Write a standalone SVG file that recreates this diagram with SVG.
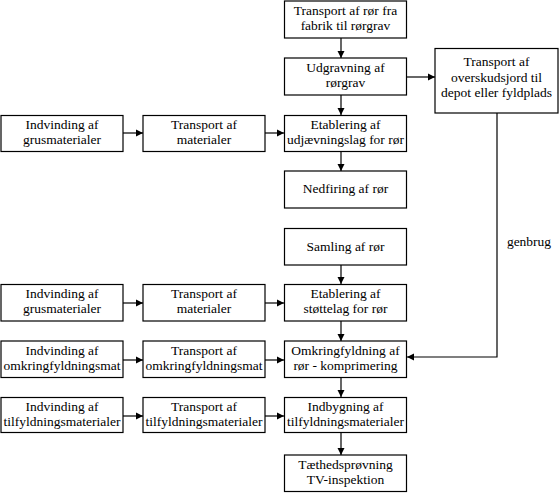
<svg xmlns="http://www.w3.org/2000/svg" width="559" height="493" viewBox="0 0 559 493" font-family="'Liberation Serif', 'Times New Roman', Times, serif">
<style>
.b{fill:#fff;stroke:#000;stroke-width:1.2}
text{font-family:'Liberation Serif','Times New Roman',Times,serif;font-size:13.5px;fill:#000;text-anchor:middle}
.c{fill:none;stroke:#000;stroke-width:1.2}
</style>
<defs>
<marker id="ah" markerUnits="userSpaceOnUse" markerWidth="8" markerHeight="8" refX="7" refY="4" orient="auto">
<path d="M0,0.5 L7,4 L0,7.5 Z" fill="#000"/>
</marker>
</defs>
<rect width="559" height="493" fill="#fff"/>
<g id="connectors">
<line class="c" x1="341" y1="38" x2="341" y2="58" marker-end="url(#ah)"/>
<line class="c" x1="341" y1="95" x2="341" y2="115" marker-end="url(#ah)"/>
<line class="c" x1="341" y1="151" x2="341" y2="171" marker-end="url(#ah)"/>
<line class="c" x1="341" y1="265" x2="341" y2="284" marker-end="url(#ah)"/>
<line class="c" x1="341" y1="321" x2="341" y2="341" marker-end="url(#ah)"/>
<line class="c" x1="341" y1="377" x2="341" y2="397" marker-end="url(#ah)"/>
<line class="c" x1="341" y1="432" x2="341" y2="455" marker-end="url(#ah)"/>
<line class="c" x1="407" y1="77" x2="435" y2="77" marker-end="url(#ah)"/>
<line class="c" x1="123" y1="133" x2="143" y2="133" marker-end="url(#ah)"/>
<line class="c" x1="265" y1="133" x2="284" y2="133" marker-end="url(#ah)"/>
<line class="c" x1="123" y1="303" x2="143" y2="303" marker-end="url(#ah)"/>
<line class="c" x1="265" y1="303" x2="284" y2="303" marker-end="url(#ah)"/>
<line class="c" x1="123" y1="360" x2="143" y2="360" marker-end="url(#ah)"/>
<line class="c" x1="265" y1="360" x2="284" y2="360" marker-end="url(#ah)"/>
<line class="c" x1="123" y1="416" x2="143" y2="416" marker-end="url(#ah)"/>
<line class="c" x1="265" y1="416" x2="284" y2="416" marker-end="url(#ah)"/>
<polyline class="c" points="497,113 497,357 407,357" marker-end="url(#ah)"/>
<text x="529" y="246">genbrug</text>
</g>
<g id="n1"><rect class="b" x="284.5" y="1" width="122" height="37"/><text x="345.5" y="15">Transport af rør fra</text><text x="345.5" y="30">fabrik til rørgrav</text></g>
<g id="n2"><rect class="b" x="284.5" y="58" width="122" height="37"/><text x="345.5" y="72">Udgravning af</text><text x="345.5" y="87">rørgrav</text></g>
<g id="n3"><rect class="b" x="435" y="48.5" width="123" height="64.5"/><text x="496.5" y="66">Transport af</text><text x="496.5" y="82">overskudsjord til</text><text x="496.5" y="97">depot eller fyldplads</text></g>
<g id="n4"><rect class="b" x="1" y="115.5" width="122" height="36"/><text x="62" y="129">Indvinding af</text><text x="62" y="144">grusmaterialer</text></g>
<g id="n5"><rect class="b" x="143" y="115.5" width="122" height="36"/><text x="204" y="129">Transport af</text><text x="204" y="144">materialer</text></g>
<g id="n6"><rect class="b" x="284.5" y="115.5" width="122" height="36"/><text x="345.5" y="129">Etablering af</text><text x="345.5" y="144">udjævningslag for rør</text></g>
<g id="n7"><rect class="b" x="284.5" y="171" width="122" height="37"/><text x="345.5" y="193">Nedfiring af rør</text></g>
<g id="n8"><rect class="b" x="284.5" y="228.5" width="122" height="36.5"/><text x="345.5" y="251">Samling af rør</text></g>
<g id="n9"><rect class="b" x="1" y="284.5" width="122" height="36.5"/><text x="62" y="298">Indvinding af</text><text x="62" y="313">grusmaterialer</text></g>
<g id="n10"><rect class="b" x="143" y="284.5" width="122" height="36.5"/><text x="204" y="298">Transport af</text><text x="204" y="313">materialer</text></g>
<g id="n11"><rect class="b" x="284.5" y="284.5" width="122" height="36.5"/><text x="345.5" y="298">Etablering af</text><text x="345.5" y="313">støttelag for rør</text></g>
<g id="n12"><rect class="b" x="1" y="341" width="122" height="36.5"/><text x="62" y="355">Indvinding af</text><text x="62" y="370">omkringfyldningsmat</text></g>
<g id="n13"><rect class="b" x="143" y="341" width="122" height="36.5"/><text x="204" y="355">Transport af</text><text x="204" y="370">omkringfyldningsmat</text></g>
<g id="n14"><rect class="b" x="284.5" y="341" width="122" height="36.5"/><text x="345.5" y="355">Omkringfyldning af</text><text x="345.5" y="370">rør - komprimering</text></g>
<g id="n15"><rect class="b" x="1" y="397.5" width="122" height="35"/><text x="62" y="411">Indvinding af</text><text x="62" y="426">tilfyldningsmaterialer</text></g>
<g id="n16"><rect class="b" x="143" y="397.5" width="122" height="35"/><text x="204" y="411">Transport af</text><text x="204" y="426">tilfyldningsmaterialer</text></g>
<g id="n17"><rect class="b" x="284.5" y="397.5" width="122" height="35"/><text x="345.5" y="411">Indbygning af</text><text x="345.5" y="426">tilfyldningsmaterialer</text></g>
<g id="n18"><rect class="b" x="284.5" y="455" width="122" height="36.5"/><text x="345.5" y="469">Tæthedsprøvning</text><text x="345.5" y="484">TV-inspektion</text></g>
</svg>
